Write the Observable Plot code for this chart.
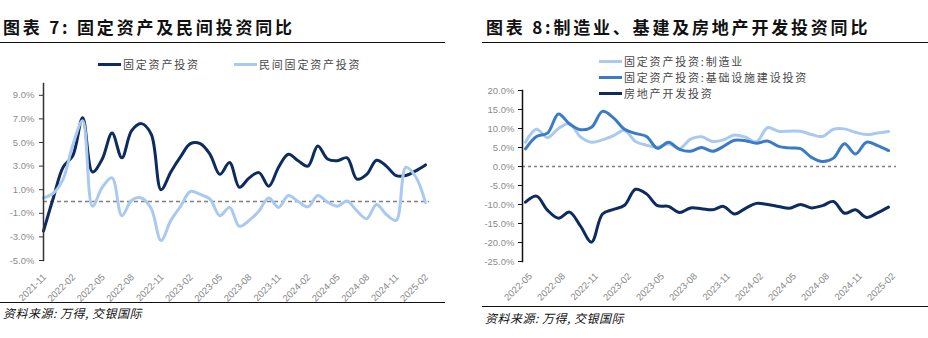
<!DOCTYPE html>
<html><head><meta charset="utf-8">
<script src="https://cdn.jsdelivr.net/npm/d3@7"></script>
<script src="https://cdn.jsdelivr.net/npm/@observablehq/plot@0.6"></script>
<style>
body{margin:0;background:#fff;}
#wrap{position:relative;width:928px;height:338px;overflow:hidden;background:#fff;font-family:"Noto Sans CJK SC",sans-serif;}
.title{position:absolute;font-size:17px;font-weight:700;letter-spacing:2.8px;color:#111;white-space:nowrap;line-height:1;}
.hr{position:absolute;height:0;border-top:1.5px solid #111;}
.src{position:absolute;font-size:12px;font-style:italic;color:#111;white-space:nowrap;line-height:1;letter-spacing:0.5px}
.leg{position:absolute;display:flex;align-items:center;font-size:11px;color:#4a4a4a;letter-spacing:1.8px;white-space:nowrap;line-height:1}
.leg i{display:inline-block;width:23px;height:3px;margin-right:2px}
.plot{position:absolute}
</style>
</head><body>
<div id="wrap">
  <div class="title" style="left:3px;top:18px">图表 7: 固定资产及民间投资同比</div>
  <div class="hr" style="left:0;top:42px;width:445px"></div>
  <div class="leg" style="left:98px;top:59px"><i style="background:#0c2b5e"></i>固定资产投资</div>
  <div class="leg" style="left:234px;top:59px"><i style="background:#a9c9f0"></i>民间固定资产投资</div>
  <div class="plot" id="left" style="left:0;top:70px"></div>
  <div class="hr" style="left:0;top:302px;width:445px"></div>
  <div class="src" style="left:3px;top:307px">资料来源: 万得, 交银国际</div>

  <div class="title" style="left:486px;top:18px">图表 8:制造业、基建及房地产开发投资同比</div>
  <div class="hr" style="left:482px;top:42px;width:446px"></div>
  <div class="plot" id="right" style="left:464px;top:60px"></div>
  <div class="leg" style="left:599px;top:56px"><i style="background:#a9c9f0"></i>固定资产投资:制造业</div>
  <div class="leg" style="left:599px;top:72px"><i style="background:#3a7bc8"></i>固定资产投资:基础设施建设投资</div>
  <div class="leg" style="left:599px;top:88px"><i style="background:#0c2b5e"></i>房地产开发投资</div>
  <div class="hr" style="left:482px;top:306px;width:446px"></div>
  <div class="src" style="left:485px;top:312px">资料来源: 万得, 交银国际</div>
</div>
<script>
// ---------- Chart 7 data ----------
const monthsL = ["2021-11","2021-12",
  "2022-01","2022-02","2022-03","2022-04","2022-05","2022-06","2022-07","2022-08","2022-09","2022-10","2022-11","2022-12",
  "2023-01","2023-02","2023-03","2023-04","2023-05","2023-06","2023-07","2023-08","2023-09","2023-10","2023-11","2023-12",
  "2024-01","2024-02","2024-03","2024-04","2024-05","2024-06","2024-07","2024-08","2024-09","2024-10","2024-11","2024-12",
  "2025-01","2025-02"];
const faiL = [-2.5,0.3,2.9,3.9,7.1,2.5,3.6,5.8,3.7,6.0,
  6.6,5.7,1.0,2.5,3.8,4.9,4.9,4.0,2.3,3.3,
  1.2,2.0,2.45,1.3,2.9,4.0,3.45,3.0,4.7,3.6,
  3.45,3.7,1.9,2.3,3.5,3.0,2.2,2.2,2.6,3.1];
const privL = [0.3,0.7,1.9,4.8,6.85,-0.4,1.2,2.0,-1.2,0.1,
  0.3,-0.6,-3.3,-1.6,-0.4,0.85,0.6,0.2,-1.2,-0.5,
  -2.1,-1.6,-0.8,0.3,-0.5,0.5,0.0,-0.45,0.5,-0.05,
  -0.4,0.05,-0.8,-1.45,-0.25,-1.1,-1.6,2.9,2.1,-0.1];
const xTicksL = ["2021-11","2022-02","2022-05","2022-08","2022-11","2023-02","2023-05","2023-08","2023-11","2024-02","2024-05","2024-08","2024-11","2025-02"];
const yTicksL = [-5,-3,-1,1,3,5,7,9];

// ---------- Chart 8 data ----------
const monthsR = ["2022-05","2022-06","2022-07","2022-08","2022-09","2022-10","2022-11","2022-12",
  "2023-01","2023-02","2023-03","2023-04","2023-05","2023-06","2023-07","2023-08","2023-09","2023-10","2023-11","2023-12",
  "2024-01","2024-02","2024-03","2024-04","2024-05","2024-06","2024-07","2024-08","2024-09","2024-10","2024-11","2024-12",
  "2025-01","2025-02"];
const mfgR = [6.4,9.8,7.6,10.0,11.3,7.8,6.4,7.0,8.1,9.5,
  6.6,5.6,5.1,6.0,4.7,7.2,7.8,6.6,7.0,8.3,
  7.7,6.5,10.2,9.3,9.3,9.3,8.4,7.9,9.8,9.9,
  9.0,8.4,8.8,9.2];
const infraR = [4.65,7.9,8.8,13.8,11.2,9.7,10.3,14.5,12.8,9.8,
  8.7,7.9,4.8,6.4,4.5,4.0,5.0,4.0,5.3,6.9,
  6.8,6.1,6.7,5.3,4.9,4.7,2.4,1.3,2.2,6.0,
  3.3,6.4,5.5,4.2];
const reR = [-9.4,-7.8,-11.5,-13.6,-12.0,-15.7,-19.9,-12.5,-11.3,-10.2,
  -6.0,-7.2,-10.3,-10.5,-12.1,-10.9,-11.1,-11.4,-10.5,-12.5,
  -11.0,-9.7,-10.0,-10.5,-11.0,-10.0,-10.9,-10.3,-9.2,-12.3,
  -11.4,-13.4,-12.2,-10.7];
const xTicksR = ["2022-05","2022-08","2022-11","2023-02","2023-05","2023-08","2023-11","2024-02","2024-05","2024-08","2024-11","2025-02"];
const yTicksR = [-25,-20,-15,-10,-5,0,5,10,15,20];

const C_DARK = "#0c2b5e", C_LIGHT = "#a9c9f0", C_MID = "#3a7bc8";
const tickFont = {fontFamily:"'Liberation Sans', Arial, sans-serif", fontSize:"9.5px", background:"transparent", overflow:"visible"};

const left = Plot.plot({
  width:464, height:230, marginTop:13, marginBottom:40, marginLeft:43, marginRight:39,
  style: tickFont,
  x:{type:"point", domain:monthsL, padding:0},
  y:{domain:[-5,10]},
  marks:[
    Plot.ruleY([0], {stroke:"#7f7f7f", strokeWidth:1.6, strokeDasharray:"4,3", insetRight:-4}),
    Plot.line(monthsL, {x:d=>d, y:(d,i)=>faiL[i], curve:"catmull-rom", stroke:C_DARK, strokeWidth:3}),
    Plot.line(monthsL, {x:d=>d, y:(d,i)=>privL[i], curve:"catmull-rom", stroke:C_LIGHT, strokeWidth:3}),
    Plot.frame({anchor:"left", stroke:"#333", strokeWidth:1.5}),
    Plot.axisY({ticks:yTicksL, tickFormat:d=>d.toFixed(1)+"%", tickSize:4, stroke:"#333", fill:"#8c8c8c", tickPadding:5, label:null}),
    Plot.axisX({ticks:xTicksL, tickRotate:-45, tickSize:0, tickPadding:15, fill:"#888", label:null, dx:1})
  ]
});
document.getElementById("left").appendChild(left);

const right = Plot.plot({
  width:464, height:245, marginTop:30, marginBottom:44, marginLeft:58, marginRight:37,
  style: tickFont,
  x:{type:"point", domain:monthsR, padding:0},
  y:{domain:[-25,20]},
  marks:[
    Plot.ruleY([0], {stroke:"#7f7f7f", strokeWidth:1.4, strokeDasharray:"3,3", insetRight:-5}),
    Plot.line(monthsR, {x:d=>d, y:(d,i)=>mfgR[i], curve:"catmull-rom", stroke:C_LIGHT, strokeWidth:3}),
    Plot.line(monthsR, {x:d=>d, y:(d,i)=>infraR[i], curve:"catmull-rom", stroke:C_MID, strokeWidth:3}),
    Plot.line(monthsR, {x:d=>d, y:(d,i)=>reR[i], curve:"catmull-rom", stroke:C_DARK, strokeWidth:3}),
    Plot.frame({anchor:"left", stroke:"#111", strokeWidth:1.5}),
    Plot.axisY({ticks:yTicksR, tickFormat:d=>d.toFixed(1)+"%", tickSize:4, stroke:"#111", fill:"#8c8c8c", tickPadding:4, label:null}),
    Plot.axisX({ticks:xTicksR, tickRotate:-45, tickSize:0, tickPadding:13, fill:"#888", label:null, dx:5})
  ]
});
document.getElementById("right").appendChild(right);
</script>
</body></html>
